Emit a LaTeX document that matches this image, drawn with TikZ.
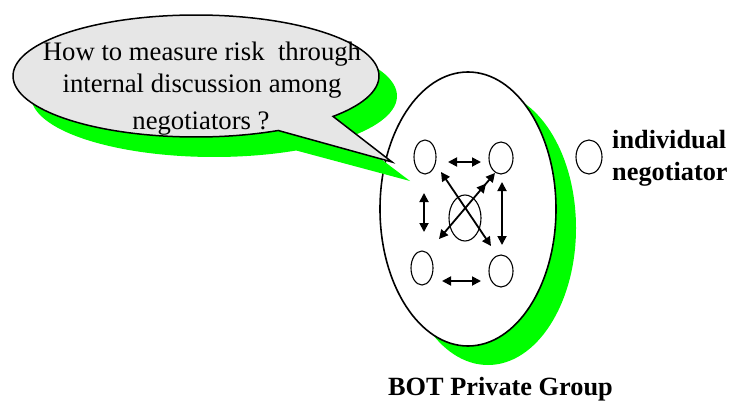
\documentclass[tikz,border=0pt]{standalone}
\usepackage{fontspec}
\setmainfont{Liberation Serif}
\usetikzlibrary{shapes.geometric,arrows.meta,calc}
\definecolor{shadowgreen}{RGB}{0,255,0}
\definecolor{bubblegray}{RGB}{230,230,230}
\tikzset{
  person/.style={draw, ellipse, line width=1.1pt, inner sep=0pt},
  tip/.style={Triangle[length=9pt,width=9pt]},
  dbl/.style={line width=1.8pt, {Triangle[length=9pt,width=9pt]}-{Triangle[length=9pt,width=9pt]}},
  bubtext/.style={font=\fontsize{26.7}{32}\selectfont, anchor=base, inner sep=0pt},
  boldtext/.style={font=\fontsize{26.3}{32}\selectfont\bfseries, anchor=base west, inner sep=0pt},
}
\begin{document}
\begin{tikzpicture}[x=1pt,y=1pt]
\useasboundingbox (0,0) rectangle (731,400);
% big group ellipse with shadow
\coordinate (gc) at (468,191);
\fill[shadowgreen] ($(gc)+(20,-19)$) ellipse[x radius=88pt, y radius=137pt];
\draw[fill=white, line width=1.6pt] (gc) ellipse[x radius=88pt, y radius=137pt];
% speech bubble with shadow
\coordinate (bc) at (196,324);
\coordinate (bs) at (214,304);
\fill[shadowgreen] ($(bs)+(-41.5:183pt and 61pt)$)
   arc[start angle=-41.5, end angle=296.7, x radius=183pt, y radius=61pt]
   -- (410,219) -- cycle;
\draw[fill=bubblegray, line width=1.5pt, line join=miter] ($(bc)+(-41.5:183pt and 61pt)$)
   arc[start angle=-41.5, end angle=296.7, x radius=183pt, y radius=61pt]
   -- (392,238) -- cycle;
\node[bubtext] (q1) at (202,340) {How to measure risk\ \ through};
\node[bubtext] (q2) at (202,308) {internal discussion among};
\node[bubtext] (q3) at (201,271) {negotiators ?};
% negotiators
\node[person, minimum width=22pt, minimum height=34pt] (tl) at (425,243) {};
\node[person, minimum width=24pt, minimum height=32pt] (tr) at (501,242) {};
\node[person, minimum width=32pt, minimum height=46pt] (mid) at (465,182) {};
\node[person, minimum width=22pt, minimum height=34pt] (bl) at (422,132) {};
\node[person, minimum width=24pt, minimum height=32pt] (br) at (501,129) {};
\node[person, minimum width=26pt, minimum height=34pt] (ind) at (589,243) {};
% arrows
\draw[dbl] ($(tl)+(23,-5)$) -- ($(tr)+(-20,-4)$);
\draw[dbl] ($(tl)+(-1,-36)$) -- ($(bl)+(2,36)$);
\draw[dbl] ($(tr)+(1,-24)$) -- ($(br)+(1,26)$);
\draw[dbl] ($(bl)+(20,-13)$) -- ($(br)+(-20,-10)$);
\draw[dbl] ($(tl)+(16,-15)$) -- ($(br)+(-10,25)$);
\draw[line width=1.8pt, {Triangle[length=9pt,width=9pt]}-{Triangle[length=9pt,width=9pt,sep=5pt]Triangle[length=9pt,width=9pt]}]
   ($(bl)+(17,29)$) -- ($(tr)+(-6,-15)$);
% labels
\node[boldtext] (indl1) at (612,252) {individual};
\node[boldtext] (indl2) at (612,220) {negotiator};
\node[boldtext] (grp) at (388,5) {BOT Private Group};
\end{tikzpicture}
\end{document}
